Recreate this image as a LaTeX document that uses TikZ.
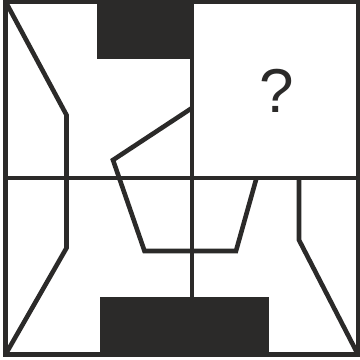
\documentclass[tikz,border=0pt]{standalone}
\usepackage{fontspec}
\setsansfont{Liberation Sans}
\definecolor{ink}{RGB}{43,42,41}

\begin{document}
\begin{tikzpicture}[x=1pt, y=-1pt, line width=4.6pt, color=ink]
    \useasboundingbox (0,0) rectangle (360,360);
    \fill (97,1.5) rectangle (192,59);
    \fill (100,297) rectangle (269,354.5);
    \draw (5.5,1.5) rectangle (358,354.5);
    \draw (192,1.5) -- (192,354.5);
    \draw (5.5,178) -- (358,178);
    \draw (5.5,1.5) -- (66.5,115) -- (66.5,248) -- (5.5,354.5);
    \draw (299,178) -- (299,240) -- (358,354.5);
    \draw (192,108) -- (113,160) -- (144.5,251) -- (236,251) -- (256.5,178);
    \node[font=\sffamily\fontsize{62}{62}\selectfont, anchor=base] (quest) at (277,112.3) {?};
\end{tikzpicture}
\end{document}
